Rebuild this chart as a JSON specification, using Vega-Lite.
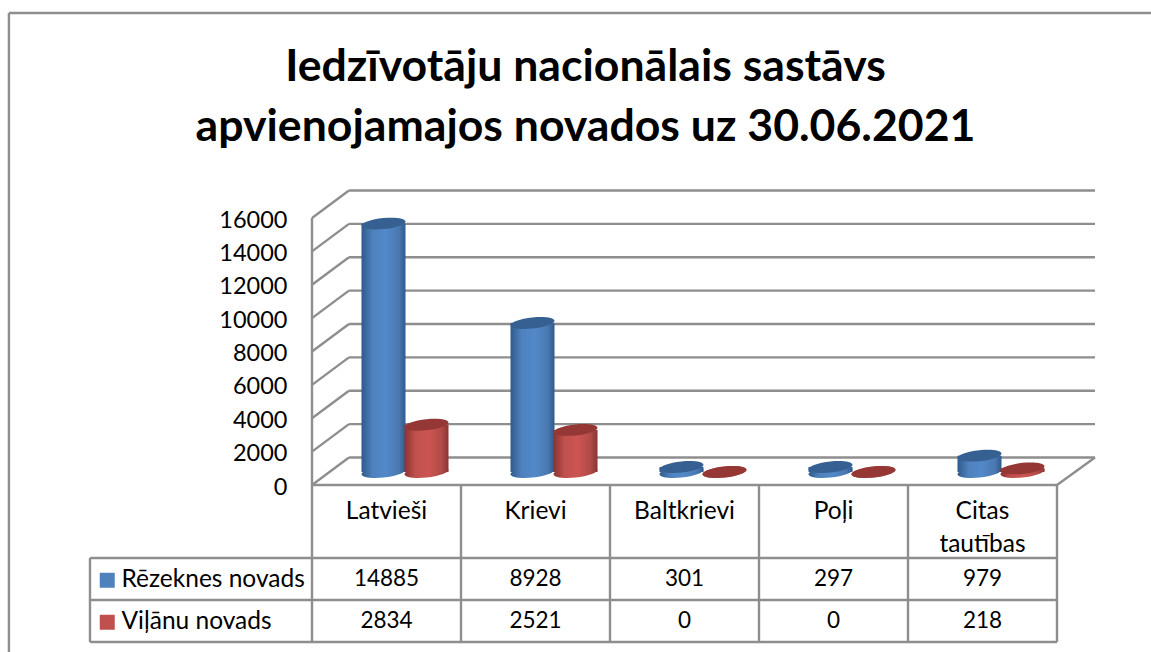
{"$schema":"https://vega.github.io/schema/vega-lite/v6.json","width":745,"height":267,"autosize":{"type":"none"},"padding":{"left":312,"top":218,"right":94,"bottom":167},"background":"white","config":{"view":{"stroke":null}},"title":{"text":["Iedzīvotāju nacionālais sastāvs","apvienojamajos novados uz 30.06.2021"],"font":"Lato","fontSize":44.6,"fontWeight":"bold","color":"#000000","anchor":"middle","dx":-99,"offset":-139,"lineHeight":60},"datasets":{"d":[{"category":"Latvieši","series":"Rēzeknes novads","value":14885},{"category":"Krievi","series":"Rēzeknes novads","value":8928},{"category":"Baltkrievi","series":"Rēzeknes novads","value":301},{"category":"Poļi","series":"Rēzeknes novads","value":297},{"category":"Citas tautības","series":"Rēzeknes novads","value":979},{"category":"Latvieši","series":"Viļānu novads","value":2834},{"category":"Krievi","series":"Viļānu novads","value":2521},{"category":"Baltkrievi","series":"Viļānu novads","value":0},{"category":"Poļi","series":"Viļānu novads","value":0},{"category":"Citas tautības","series":"Viļānu novads","value":218}],"lines":[{"x":0,"y":0,"x2":0.248,"y2":1650},{"x":0,"y":2000,"x2":0.248,"y2":3650},{"x":0,"y":4000,"x2":0.248,"y2":5650},{"x":0,"y":6000,"x2":0.248,"y2":7650},{"x":0,"y":8000,"x2":0.248,"y2":9650},{"x":0,"y":10000,"x2":0.248,"y2":11650},{"x":0,"y":12000,"x2":0.248,"y2":13650},{"x":0,"y":14000,"x2":0.248,"y2":15650},{"x":0,"y":16000,"x2":0.248,"y2":17650},{"x":0.248,"y":1650,"x2":5.255,"y2":1650},{"x":0.248,"y":3650,"x2":5.255,"y2":3650},{"x":0.248,"y":5650,"x2":5.255,"y2":5650},{"x":0.248,"y":7650,"x2":5.255,"y2":7650},{"x":0.248,"y":9650,"x2":5.255,"y2":9650},{"x":0.248,"y":11650,"x2":5.255,"y2":11650},{"x":0.248,"y":13650,"x2":5.255,"y2":13650},{"x":0.248,"y":15650,"x2":5.255,"y2":15650},{"x":0.248,"y":17650,"x2":5.255,"y2":17650},{"x":0,"y":0,"x2":0,"y2":16000},{"x":5,"y":0,"x2":5.255,"y2":1650},{"x":0,"y":0,"x2":0,"y2":-9409},{"x":1,"y":0,"x2":1,"y2":-9409},{"x":2,"y":0,"x2":2,"y2":-9409},{"x":3,"y":0,"x2":3,"y2":-9409},{"x":4,"y":0,"x2":4,"y2":-9409},{"x":5,"y":0,"x2":5,"y2":-9409},{"x":0,"y":0,"x2":5,"y2":0},{"x":-1.49,"y":-4375,"x2":5,"y2":-4375},{"x":-1.49,"y":-6892,"x2":5,"y2":-6892},{"x":-1.49,"y":-9409,"x2":5,"y2":-9409},{"x":-1.49,"y":-4375,"x2":-1.49,"y2":-9409},{"x":-2.034,"y":-10008,"x2":-2.034,"y2":28287},{"x":-2.034,"y":28287,"x2":5.631,"y2":28287}]},"resolve":{"scale":{"x":"independent","y":"independent","color":"independent"},"axis":{"x":"independent","y":"independent"}},"layer":[{"data":{"name":"lines"},"mark":{"type":"rule","stroke":"#8e8e8e","strokeWidth":2.4},"encoding":{"x":{"field":"x","type":"quantitative","scale":{"domain":[0,5],"zero":false,"nice":false},"axis":null},"x2":{"field":"x2"},"y":{"field":"y","type":"quantitative","scale":{"domain":[0,16000],"nice":false},"axis":{"values":[0,2000,4000,6000,8000,10000,12000,14000,16000],"title":null,"domain":false,"ticks":false,"grid":false,"format":"d","labelPadding":25,"labelOffset":2,"labelFont":"Lato","labelFontSize":23.5,"labelColor":"#000000","labelOverlap":false,"labelFlush":false}},"y2":{"field":"y2"}}},{"data":{"name":"d"},"mark":{"type":"bar","width":42,"xOffset":-3},"transform":[{"filter":"datum.series==='Rēzeknes novads'"}],"encoding":{"x":{"field":"category","type":"nominal","sort":null,"scale":{"type":"band","domain":["Latvieši","Krievi","Baltkrievi","Poļi","Citas tautības"],"paddingInner":0,"paddingOuter":0},"axis":null},"y":{"field":"value","type":"quantitative","stack":null,"scale":{"domain":[0,16000],"range":[254,-13],"nice":false},"axis":null},"color":{"field":"series","type":"nominal","scale":{"domain":["Rēzeknes novads","Viļānu novads"],"range":["#4f81bd","#c0504d"]},"legend":{"orient":"none","legendX":-217,"legendY":350,"title":null,"symbolType":"square","symbolSize":225,"symbolStrokeWidth":0,"labelFont":"Lato","labelFontSize":24.5,"labelLimit":230,"labelColor":"#000000","labelOffset":2,"rowPadding":17,"values":["Rēzeknes novads","Viļānu novads"]}}}},{"data":{"name":"d"},"mark":{"type":"point","filled":true,"opacity":1,"size":1936,"xOffset":-3,"shape":"M-1,0.1A1.005,0.25,-6,1,1,1,-0.1A1.005,0.25,-6,1,1,-1,0.1Z","fill":{"gradient":"linear","x1":0,"y1":0,"x2":1,"y2":0,"stops":[{"offset":0,"color":"#2f5a8c"},{"offset":0.25,"color":"#4f81bd"},{"offset":0.55,"color":"#5289c9"},{"offset":0.85,"color":"#4a78b0"},{"offset":1,"color":"#2f5a8c"}]}},"transform":[{"filter":"datum.series==='Rēzeknes novads'"}],"encoding":{"x":{"field":"category","type":"nominal","sort":null,"scale":{"type":"band","domain":["Latvieši","Krievi","Baltkrievi","Poļi","Citas tautības"],"paddingInner":0,"paddingOuter":0},"axis":null},"y":{"datum":0,"type":"quantitative","scale":{"domain":[0,16000],"range":[254,-13],"nice":false},"axis":null}}},{"data":{"name":"d"},"mark":{"type":"bar","width":44,"xOffset":-3,"fill":{"gradient":"linear","x1":0,"y1":0,"x2":1,"y2":0,"stops":[{"offset":0,"color":"#2f5a8c"},{"offset":0.25,"color":"#4f81bd"},{"offset":0.55,"color":"#5289c9"},{"offset":0.85,"color":"#4a78b0"},{"offset":1,"color":"#2f5a8c"}]}},"transform":[{"filter":"datum.series==='Rēzeknes novads'"}],"encoding":{"x":{"field":"category","type":"nominal","sort":null,"scale":{"type":"band","domain":["Latvieši","Krievi","Baltkrievi","Poļi","Citas tautības"],"paddingInner":0,"paddingOuter":0},"axis":null},"y":{"field":"value","type":"quantitative","stack":null,"scale":{"domain":[0,16000],"range":[254,-13],"nice":false},"axis":null}}},{"data":{"name":"d"},"mark":{"type":"point","filled":true,"opacity":1,"size":1936,"xOffset":-3,"shape":"M-1,0.1A1.005,0.25,-6,1,1,1,-0.1A1.005,0.25,-6,1,1,-1,0.1Z","fill":"#376092"},"transform":[{"filter":"datum.series==='Rēzeknes novads'"}],"encoding":{"x":{"field":"category","type":"nominal","sort":null,"scale":{"type":"band","domain":["Latvieši","Krievi","Baltkrievi","Poļi","Citas tautības"],"paddingInner":0,"paddingOuter":0},"axis":null},"y":{"field":"value","type":"quantitative","scale":{"domain":[0,16000],"range":[254,-13],"nice":false},"axis":null}}},{"data":{"name":"d"},"mark":{"type":"point","filled":true,"opacity":1,"size":1936,"xOffset":40,"shape":"M-1,0.1A1.005,0.25,-6,1,1,1,-0.1A1.005,0.25,-6,1,1,-1,0.1Z","fill":{"gradient":"linear","x1":0,"y1":0,"x2":1,"y2":0,"stops":[{"offset":0,"color":"#8a3432"},{"offset":0.25,"color":"#c0504d"},{"offset":0.55,"color":"#cc5552"},{"offset":0.85,"color":"#b04a47"},{"offset":1,"color":"#8a3432"}]}},"transform":[{"filter":"datum.series==='Viļānu novads'"}],"encoding":{"x":{"field":"category","type":"nominal","sort":null,"scale":{"type":"band","domain":["Latvieši","Krievi","Baltkrievi","Poļi","Citas tautības"],"paddingInner":0,"paddingOuter":0},"axis":null},"y":{"datum":0,"type":"quantitative","scale":{"domain":[0,16000],"range":[254,-13],"nice":false},"axis":null}}},{"data":{"name":"d"},"mark":{"type":"bar","width":44,"xOffset":40,"fill":{"gradient":"linear","x1":0,"y1":0,"x2":1,"y2":0,"stops":[{"offset":0,"color":"#8a3432"},{"offset":0.25,"color":"#c0504d"},{"offset":0.55,"color":"#cc5552"},{"offset":0.85,"color":"#b04a47"},{"offset":1,"color":"#8a3432"}]}},"transform":[{"filter":"datum.series==='Viļānu novads'"}],"encoding":{"x":{"field":"category","type":"nominal","sort":null,"scale":{"type":"band","domain":["Latvieši","Krievi","Baltkrievi","Poļi","Citas tautības"],"paddingInner":0,"paddingOuter":0},"axis":null},"y":{"field":"value","type":"quantitative","stack":null,"scale":{"domain":[0,16000],"range":[254,-13],"nice":false},"axis":null}}},{"data":{"name":"d"},"mark":{"type":"point","filled":true,"opacity":1,"size":1936,"xOffset":40,"shape":"M-1,0.1A1.005,0.25,-6,1,1,1,-0.1A1.005,0.25,-6,1,1,-1,0.1Z","fill":"#953735"},"transform":[{"filter":"datum.series==='Viļānu novads'"}],"encoding":{"x":{"field":"category","type":"nominal","sort":null,"scale":{"type":"band","domain":["Latvieši","Krievi","Baltkrievi","Poļi","Citas tautības"],"paddingInner":0,"paddingOuter":0},"axis":null},"y":{"field":"value","type":"quantitative","scale":{"domain":[0,16000],"range":[254,-13],"nice":false},"axis":null}}},{"data":{"name":"d"},"mark":{"type":"text","font":"Lato","fontSize":22.5,"color":"#000000","baseline":"middle","align":"center"},"encoding":{"x":{"field":"category","type":"nominal","sort":null,"scale":{"type":"band","domain":["Latvieši","Krievi","Baltkrievi","Poļi","Citas tautības"],"paddingInner":0,"paddingOuter":0},"axis":{"title":null,"orient":"bottom","domain":false,"ticks":false,"grid":false,"labelAngle":0,"labelPadding":14,"labelFont":"Lato","labelFontSize":24.5,"labelColor":"#000000","labelLineHeight":33,"labelBaseline":"top","labelOverlap":false,"labelFlush":false,"labelExpr":"split(datum.label,' ')"}},"y":{"field":"series","type":"nominal","scale":{"type":"point","domain":["Rēzeknes novads","Viļānu novads"],"range":[361,403],"padding":0},"axis":null},"text":{"field":"value","type":"quantitative","format":"d"}}}]}
